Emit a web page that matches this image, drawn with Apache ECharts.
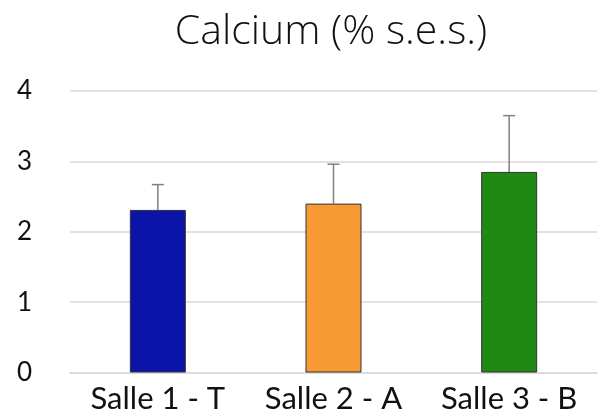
<!DOCTYPE html>
<html><head><meta charset="utf-8">
<script src="https://cdn.jsdelivr.net/npm/echarts@6/dist/echarts.min.js"></script>
<style>html,body{margin:0;padding:0;background:#fff}#c{width:602px;height:417px}</style>
</head><body><div id="c"></div>
<script>
var categories = ['Salle 1 - T', 'Salle 2 - A', 'Salle 3 - B'];
var values = [2.31, 2.40, 2.85];
var errors = [0.36, 0.56, 0.80];
var barColors = ['#0A14A8', '#F79A33', '#1E8A12'];
var yTicks = [0, 1, 2, 3, 4];

var chart = echarts.init(document.getElementById('c'));
chart.setOption({
  animation: false,
  title: {
    text: 'Calcium (% s.e.s.)',
    left: 326, top: 7, textAlign: 'center',
    textStyle: {fontFamily: 'Open Sans', fontWeight: 300, fontSize: 41, color: '#111'}
  },
  grid: {left: 70, right: 5, top: 91, bottom: 44.5},
  xAxis: {
    type: 'category', data: categories,
    axisLine: {lineStyle: {color: '#d9d9d9', width: 1.5}},
    axisTick: {show: false},
    axisLabel: {interval: 0, hideOverlap: false, fontFamily: 'Lato', fontSize: 31, color: '#111', margin: 11}
  },
  yAxis: {
    type: 'value', min: yTicks[0], max: yTicks[yTicks.length - 1], interval: 1,
    axisLine: {show: false}, axisTick: {show: false},
    splitLine: {lineStyle: {color: '#d9d9d9', width: 1.5}},
    axisLabel: {fontFamily: 'Lato', fontSize: 26, color: '#111', margin: 53, align: 'left'}
  },
  series: [{
    type: 'bar', barWidth: 56,
    data: values.map(function (v, i) {
      return {value: v, itemStyle: {color: barColors[i], borderColor: '#333', borderWidth: 1}};
    })
  }, {
    type: 'custom', z: 1,
    data: values.map(function (v, i) { return [i, v, v + errors[i]]; }),
    renderItem: function (params, api) {
      var b = api.coord([api.value(0), api.value(1)]);
      var t = api.coord([api.value(0), api.value(2)]);
      var hw = 6;
      var st = {stroke: '#808080', lineWidth: 1.5};
      return {type: 'group', children: [
        {type: 'line', shape: {x1: b[0], y1: b[1], x2: t[0], y2: t[1]}, style: st},
        {type: 'line', shape: {x1: t[0] - hw, y1: t[1], x2: t[0] + hw, y2: t[1]}, style: st}
      ]};
    }
  }]
});
</script></body></html>
